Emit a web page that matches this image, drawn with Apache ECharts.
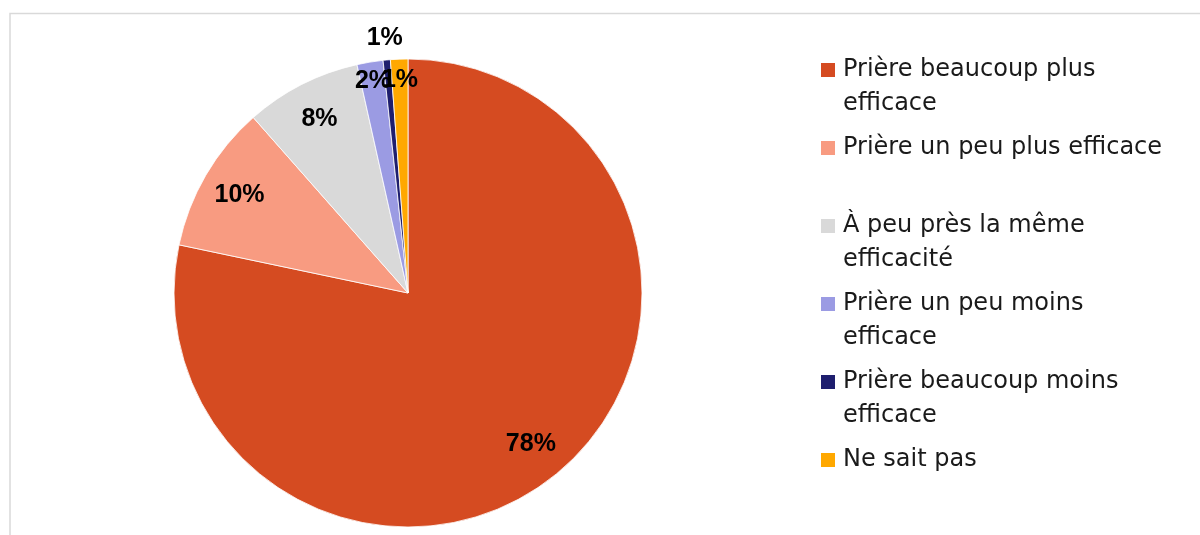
<!DOCTYPE html>
<html>
<head>
<meta charset="utf-8">
<script src="https://cdn.jsdelivr.net/npm/echarts@6/dist/echarts.min.js"></script>
<style>
  html, body { margin: 0; padding: 0; background: #ffffff; }
  #chart { width: 1200px; height: 535px; }
</style>
</head>
<body>
<div id="chart"></div>
<script>
// ---- Data ----
const categories = [
  'Prière beaucoup plus efficace',
  'Prière un peu plus efficace',
  'À peu près la même efficacité',
  'Prière un peu moins efficace',
  'Prière beaucoup moins efficace',
  'Ne sait pas'
];
const shares = [78.3, 10.2, 8.0, 1.8, 0.5, 1.2];
const colors = ['#D54B21', '#F89B81', '#D9D9D9', '#9B9BE3', '#1E1E6E', '#FFA800'];

// ---- Styling ----
const CX = 408, CY = 293, R = 234;
const legendFont = 'DejaVu Sans';
const legendSize = 24;
const labelFont = 'Liberation Sans';
const labelSize = 25;

const chart = echarts.init(document.getElementById('chart'), null, { renderer: 'canvas' });

const pieData = categories.map((name, i) => ({ name, value: shares[i], itemStyle: { color: colors[i] } }));

function wrapText(text, maxW) {
  const c = document.createElement('canvas').getContext('2d');
  c.font = legendSize + 'px "' + legendFont + '"';
  const words = text.split(' ');
  const lines = [];
  let cur = '';
  words.forEach(w => {
    const t = cur ? cur + ' ' + w : w;
    if (c.measureText(t).width > maxW && cur) { lines.push(cur); cur = w; }
    else cur = t;
  });
  if (cur) lines.push(cur);
  return lines;
}

const rich = { s: { width: 14, height: 14 }, t: { fontFamily: legendFont, fontSize: legendSize, lineHeight: 34, color: '#1a1a1a', padding: [0, 0, 0, 8] } };
colors.forEach((c, i) => { rich['b' + i] = { width: 14, height: 14, backgroundColor: c }; });

function labelRing(r0, r1, shownIdx) {
  return {
    type: 'pie',
    center: [CX, CY],
    radius: [r0, r1],
    startAngle: 90,
    silent: true,
    avoidLabelOverlap: false,
    labelLayout: { hideOverlap: false },
    legendHoverLink: false,
    emphasis: { disabled: true },
    tooltip: { show: false },
    itemStyle: { color: 'rgba(0,0,0,0)', borderWidth: 0 },
    labelLine: { show: false },
    label: {
      show: true,
      position: 'inside',
      fontFamily: labelFont,
      fontSize: labelSize,
      fontWeight: 'bold',
      color: '#000',
      overflow: 'none',
      formatter: p => Math.round(p.percent) + '%'
    },
    data: categories.map((name, i) => ({
      name, value: shares[i],
      itemStyle: { color: 'rgba(0,0,0,0)' },
      label: { show: shownIdx.indexOf(i) >= 0 }
    }))
  };
}

const option = {
  backgroundColor: '#ffffff',
  animation: false,
  graphic: [{
    type: 'rect',
    shape: { x: 10, y: 13.5, width: 1220, height: 560 },
    style: { fill: 'none', stroke: '#d9d9d9', lineWidth: 1.5 },
    silent: true
  }],
  legend: {
    orient: 'vertical',
    left: 816,
    top: 58,
    padding: 0,
    itemGap: 20,
    itemWidth: 0,
    itemHeight: 14,
    icon: 'none',
    selectedMode: false,
    data: categories,
    formatter: function (name) {
      const idx = categories.indexOf(name);
      const lines = wrapText(name, 332);
      let out = lines.map((l, i) => (i === 0 ? '{b' + idx + '|}' : '{s|}') + '{t|' + l + '}').join('\n');
      if (lines.length === 1) out += '\n{s|}{t| }';
      return out;
    },
    textStyle: { rich: rich }
  },
  series: [
    {
      type: 'pie',
      name: 'main',
      center: [CX, CY],
      radius: R,
      startAngle: 90,
      clockwise: true,
      avoidLabelOverlap: false,
      emphasis: { scale: false },
      label: { show: false },
      labelLine: { show: false },
      itemStyle: { borderColor: '#ffffff', borderWidth: 0.8 },
      data: pieData
    },
    labelRing(150, 234, [0, 1, 2]),
    labelRing(190, 234, [3]),
    labelRing(186, 234, [5]),
    labelRing(236, 270, [4])
  ]
};
chart.setOption(option);
</script>
</body>
</html>
